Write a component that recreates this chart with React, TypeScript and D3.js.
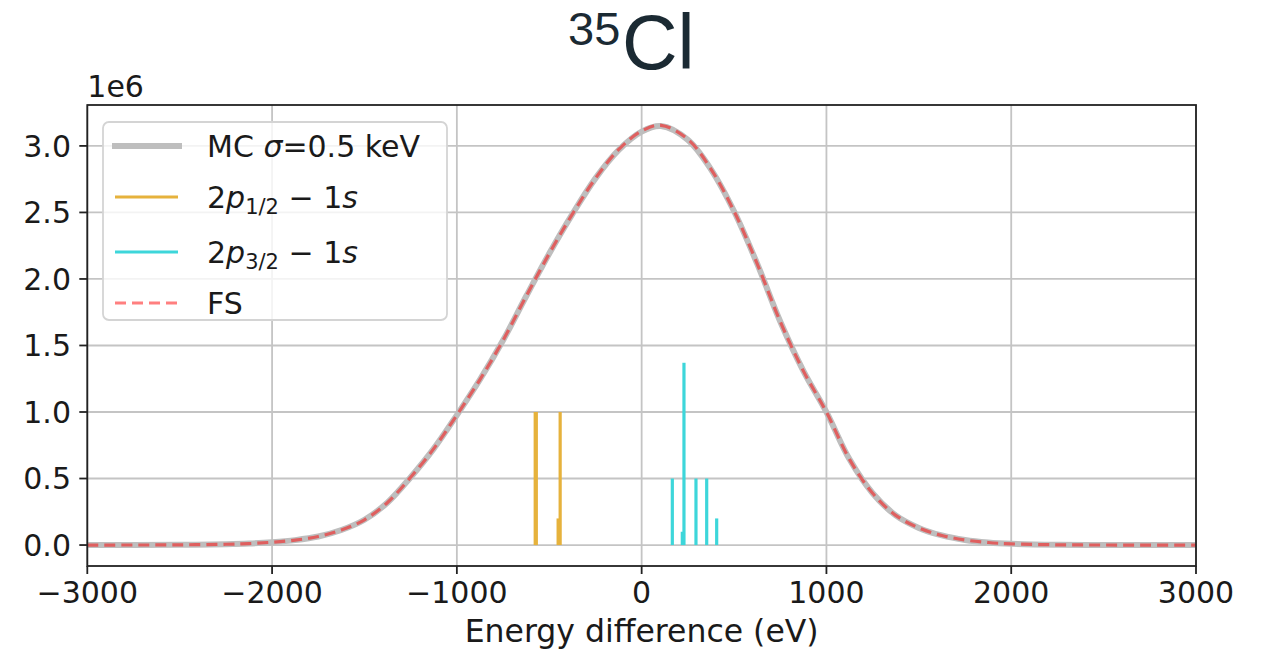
import React from 'react';
import * as d3 from 'd3';

// energy grid (eV) and intensity (x1e6)
const curveEnergy = [-3000, -2750, -2500, -2250, -2125, -2000, -1875, -1750, -1625, -1500, -1375, -1250, -1125, -1000, -875, -750, -625, -500, -375, -250, -125, 0, 105, 250, 375, 500, 625, 750, 875, 1000, 1125, 1250, 1375, 1500, 1625, 1750, 1875, 2000, 2250, 2500, 2750, 3000];
const mcIntensity = [0, 0.0003, 0.0015, 0.006, 0.011, 0.021, 0.037, 0.064, 0.113, 0.19, 0.32, 0.51, 0.725, 0.977, 1.244, 1.539, 1.87, 2.191, 2.487, 2.756, 2.968, 3.107, 3.149, 3.045, 2.824, 2.509, 2.115, 1.68, 1.309, 0.999, 0.644, 0.389, 0.223, 0.129, 0.072, 0.038, 0.019, 0.009, 0.0017, 0.0003, 0, 0];
const fsIntensity = [0, 0.0003, 0.0015, 0.006, 0.011, 0.021, 0.037, 0.064, 0.113, 0.19, 0.32, 0.51, 0.725, 0.977, 1.244, 1.539, 1.87, 2.191, 2.487, 2.756, 2.972, 3.112, 3.155, 3.05, 2.826, 2.509, 2.115, 1.68, 1.309, 0.999, 0.644, 0.389, 0.223, 0.129, 0.072, 0.038, 0.019, 0.009, 0.0017, 0.0003, 0, 0];

// transition lines
const p12Energy = [-576, -570, -441, -452];
const p12Intensity = [1.0, 1.0, 1.0, 0.2];
const p32Energy = [166, 229, 220, 294, 352, 406];
const p32Intensity = [0.5, 1.37, 0.1, 0.5, 0.5, 0.2];

const xTicks = [-3000, -2000, -1000, 0, 1000, 2000, 3000];
const yTicks = [0, 0.5, 1.0, 1.5, 2.0, 2.5, 3.0];

const W = 1261;
const H = 650;
const plot = { left: 87.3, right: 1196, top: 105, bottom: 566 };

const FONT = 'DejaVu Sans';
const FS = 30;
const ORANGE = '#e6b23c';
const CYAN = '#3dd6da';

export default function App() {
  const x = d3.scaleLinear().domain([-3000, 3000]).range([plot.left, plot.right]);
  const y = d3.scaleLinear().domain([-0.1575, 3.3075]).range([plot.bottom, plot.top]);

  const pts = curveEnergy.map((e, i) => [e, mcIntensity[i]] as [number, number]);
  const fsPts = curveEnergy.map((e, i) => [e, fsIntensity[i]] as [number, number]);
  const line = d3.line<[number, number]>()
    .x(d => x(d[0]))
    .y(d => y(d[1]))
    .curve(d3.curveCatmullRom.alpha(0.5));

  const minus = (v: number) => (v < 0 ? '\u2212' + Math.abs(v) : String(v));

  // legend layout
  const lg = { x: 103, y: 122, w: 344, h: 198 };
  const rows = [146, 197, 252, 303];
  const lx1 = 115, lx2 = 178, tx = 207;

  return (
    <div style={{ position: 'absolute', left: 0, top: 0 }}>
      <svg width={W} height={H} style={{ display: 'block', background: '#fff' }}>
        {/* title */}
        <text x={568} y={45} fontFamily="Liberation Sans, Arial, sans-serif" fontSize={47} fill="#1b2a33">35</text>
        <text x={622} y={69} fontFamily="Liberation Sans, Arial, sans-serif" fontSize={77} fill="#1b2a33">Cl</text>

        <defs>
          <clipPath id="plotClip">
            <rect x={plot.left} y={plot.top} width={plot.right - plot.left} height={plot.bottom - plot.top} />
          </clipPath>
        </defs>

        {/* grid */}
        <g stroke="#c4c4c4" strokeWidth={1.8}>
          {xTicks.map(t => (
            <line key={'gx' + t} x1={x(t)} x2={x(t)} y1={plot.top} y2={plot.bottom} />
          ))}
          {yTicks.map(t => (
            <line key={'gy' + t} x1={plot.left} x2={plot.right} y1={y(t)} y2={y(t)} />
          ))}
        </g>

        <g clipPath="url(#plotClip)">
          <path d={line(pts) || ''} fill="none" stroke="#bebebe" strokeWidth={6} strokeLinejoin="round" />
          {p12Energy.map((e, i) => (
            <line key={'o' + i} x1={x(e)} x2={x(e)} y1={y(0)} y2={y(p12Intensity[i])} stroke={ORANGE} strokeWidth={3.2} />
          ))}
          {p32Energy.map((e, i) => (
            <line key={'c' + i} x1={x(e)} x2={x(e)} y1={y(0)} y2={y(p32Intensity[i])} stroke={CYAN} strokeWidth={3.2} />
          ))}
          <path d={line(fsPts) || ''} fill="none" stroke="red" strokeOpacity={0.5} strokeWidth={3.2} strokeDasharray="11,6" />
        </g>

        {/* spines */}
        <rect x={plot.left} y={plot.top} width={plot.right - plot.left} height={plot.bottom - plot.top} fill="none" stroke="#222" strokeWidth={1.8} />

        {/* x ticks */}
        <g fontFamily={FONT} fontSize={FS} fill="#1a1a1a" textAnchor="middle">
          {xTicks.map(t => (
            <g key={'xt' + t}>
              <line x1={x(t)} x2={x(t)} y1={plot.bottom} y2={plot.bottom + 8} stroke="#222" strokeWidth={1.8} />
              <text x={x(t)} y={603}>{minus(t)}</text>
            </g>
          ))}
        </g>

        {/* y ticks */}
        <g fontFamily={FONT} fontSize={FS} fill="#1a1a1a" textAnchor="end">
          {yTicks.map(t => (
            <g key={'yt' + t}>
              <line x1={plot.left - 8} x2={plot.left} y1={y(t)} y2={y(t)} stroke="#222" strokeWidth={1.8} />
              <text x={71} y={y(t) + 10.8}>{t.toFixed(1)}</text>
            </g>
          ))}
        </g>

        <text x={plot.left} y={97} fontFamily={FONT} fontSize={FS} fill="#1a1a1a">1e6</text>

        <text x={(plot.left + plot.right) / 2} y={642} fontFamily={FONT} fontSize={31.5} fill="#1a1a1a" textAnchor="middle">
          Energy difference (eV)
        </text>

        {/* legend */}
        <rect x={lg.x} y={lg.y} width={lg.w} height={lg.h} rx={6} fill="#fff" fillOpacity={0.8} stroke="#d4d4d4" strokeWidth={1.8} />
        <line x1={112} x2={182} y1={rows[0]} y2={rows[0]} stroke="#bebebe" strokeWidth={6} />
        <line x1={lx1} x2={lx2} y1={rows[1]} y2={rows[1]} stroke={ORANGE} strokeWidth={3.2} />
        <line x1={lx1} x2={lx2} y1={rows[2]} y2={rows[2]} stroke={CYAN} strokeWidth={3.2} />
        <line x1={lx1} x2={lx2} y1={rows[3]} y2={rows[3]} stroke="red" strokeOpacity={0.5} strokeWidth={3.2} strokeDasharray="11,6" />

        <g fontFamily={FONT} fontSize={FS} fill="#1a1a1a">
          <text x={tx} y={rows[0] + 11}>
            MC <tspan fontStyle="italic">σ</tspan>=0.5 keV
          </text>
          <text x={tx} y={rows[1] + 11}>
            2<tspan fontStyle="italic">p</tspan>
            <tspan fontSize={21} dy={6}>1/2</tspan>
            <tspan dy={-6}> − 1</tspan><tspan fontStyle="italic">s</tspan>
          </text>
          <text x={tx} y={rows[2] + 11}>
            2<tspan fontStyle="italic">p</tspan>
            <tspan fontSize={21} dy={6}>3/2</tspan>
            <tspan dy={-6}> − 1</tspan><tspan fontStyle="italic">s</tspan>
          </text>
          <text x={tx} y={rows[3] + 11}>FS</text>
        </g>
      </svg>
    </div>
  );
}
